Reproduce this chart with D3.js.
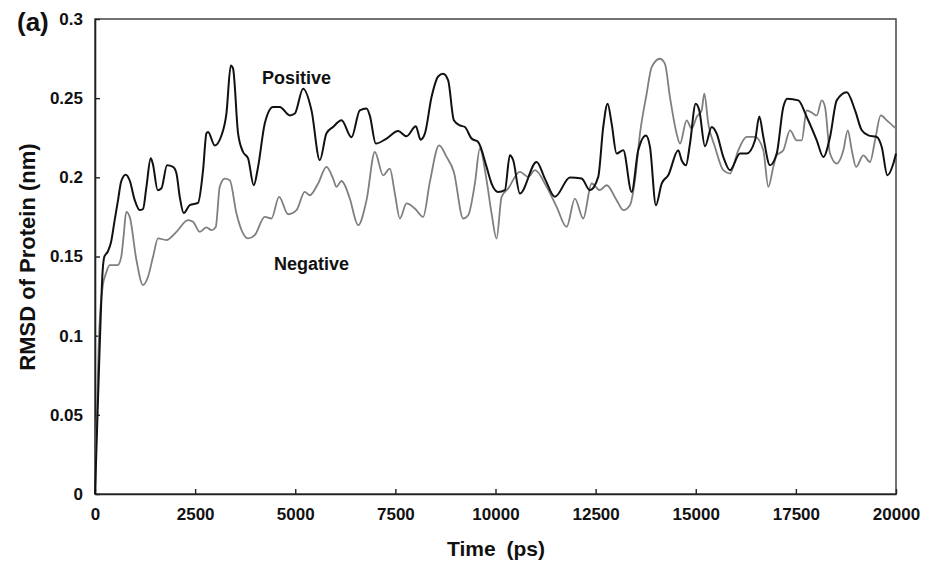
<!DOCTYPE html>
<html>
<head>
<meta charset="utf-8">
<script src="https://cdn.jsdelivr.net/npm/d3@7"></script>
<style>
  body { margin: 0; background: #fff; }
  text { font-family: "Liberation Sans", Arial, sans-serif; font-weight: bold; fill: #111; }
</style>
</head>
<body>
<div id="chart"></div>
<script>
// Positive run (black)
var posTime = [0,117,192,235,317,400,485,575,655,767,867,992,1117,1199,1284,1391,1441,1566,1659,1799,1948,2033,2116,2216,2366,2573,2698,2783,2823,2990,3157,3282,3390,3447,3572,3697,3822,3964,4072,4239,4446,4614,4864,4989,5196,5406,5613,5780,5945,6155,6405,6612,6780,6862,7012,7279,7569,7779,8011,8129,8236,8403,8568,8693,8818,8960,9110,9235,9402,9567,9777,9902,10067,10234,10359,10442,10609,11026,11233,11483,11858,12150,12357,12565,12690,12800,12900,13024,13190,13399,13564,13757,13857,14006,14149,14313,14563,14648,14756,14856,14998,15088,15230,15398,15523,15688,15855,16105,16272,16480,16587,16687,16854,17021,17186,17286,17561,17771,18021,18186,18353,18520,18770,18978,19145,19310,19519,19644,19784,19934,20000];
var posRmsd = [0,0.093,0.1415,0.150,0.153,0.159,0.172,0.1856,0.1975,0.2017,0.198,0.1856,0.1793,0.180,0.194,0.212,0.2089,0.1919,0.1931,0.2076,0.2066,0.2026,0.1877,0.1774,0.1824,0.1839,0.2045,0.2278,0.2286,0.2201,0.2264,0.2404,0.2706,0.2687,0.2278,0.216,0.212,0.195,0.2066,0.234,0.2444,0.2444,0.2391,0.2403,0.256,0.2423,0.2108,0.2278,0.2318,0.236,0.2253,0.2423,0.2434,0.239,0.2213,0.2245,0.2292,0.2259,0.2322,0.2238,0.2276,0.2507,0.2637,0.2654,0.2612,0.236,0.2328,0.2318,0.2245,0.2223,0.2066,0.1961,0.1908,0.1919,0.2139,0.2108,0.1898,0.2097,0.1992,0.1877,0.1999,0.1992,0.1919,0.2003,0.2318,0.2465,0.2339,0.215,0.2171,0.1908,0.2171,0.2265,0.2192,0.1824,0.1961,0.2013,0.2171,0.2108,0.2076,0.2213,0.2465,0.2423,0.2196,0.2318,0.2276,0.2129,0.2045,0.215,0.215,0.2234,0.2385,0.2255,0.2076,0.215,0.2444,0.2497,0.2486,0.2381,0.2234,0.2129,0.2255,0.2486,0.2538,0.2423,0.2297,0.2265,0.2255,0.2192,0.2013,0.2087,0.215];

// Negative run (grey)
var negTime = [0,110,192,275,367,567,655,717,780,867,1034,1199,1324,1449,1574,1784,2033,2323,2448,2615,2783,2908,3015,3115,3240,3365,3532,3697,3822,3989,4239,4406,4596,4821,5031,5238,5363,5571,5780,5945,6030,6155,6238,6362,6570,6780,6987,7194,7362,7487,7611,7779,7986,8193,8361,8593,8778,8960,9193,9318,9485,9610,9777,9902,10027,10152,10317,10609,10816,10984,11276,11526,11776,11983,12190,12400,12607,12775,13024,13190,13357,13482,13607,13774,13899,14106,14231,14356,14523,14606,14773,14898,15023,15148,15213,15313,15480,15688,15855,16062,16272,16480,16687,16812,16937,17021,17186,17354,17521,17646,17771,17936,18021,18146,18228,18353,18520,18686,18796,18896,19003,19185,19353,19477,19620,19769,20000];
var negRmsd = [0,0.1057,0.131,0.1394,0.1446,0.1446,0.1498,0.1635,0.1782,0.175,0.1478,0.132,0.1372,0.1498,0.1614,0.1604,0.1656,0.173,0.1719,0.1656,0.1684,0.1667,0.1687,0.194,0.1992,0.1982,0.1772,0.1646,0.1614,0.1635,0.175,0.174,0.1877,0.1767,0.1793,0.1908,0.1887,0.1961,0.2066,0.1992,0.194,0.1977,0.195,0.1866,0.1698,0.1856,0.216,0.2013,0.2055,0.1898,0.174,0.1835,0.1803,0.175,0.1971,0.2202,0.2129,0.2034,0.174,0.1761,0.1961,0.2182,0.1982,0.1772,0.1614,0.1877,0.193,0.2034,0.2003,0.2045,0.194,0.1814,0.1687,0.1866,0.174,0.1961,0.1919,0.195,0.1856,0.1793,0.1824,0.1982,0.2276,0.2528,0.2696,0.2749,0.2717,0.2507,0.2276,0.2213,0.236,0.2308,0.2381,0.2423,0.2528,0.2339,0.2192,0.2045,0.2024,0.2171,0.2255,0.2255,0.2171,0.194,0.2066,0.2139,0.2171,0.2297,0.2234,0.2234,0.2423,0.2402,0.2391,0.2486,0.2444,0.215,0.2087,0.2171,0.2297,0.2171,0.2066,0.2139,0.2097,0.2234,0.2391,0.236,0.2308];

var xTicks = [0,2500,5000,7500,10000,12500,15000,17500,20000];
var yTicks = [0,0.05,0.1,0.15,0.2,0.25,0.3];
var yTickLabels = ["0","0.05","0.1","0.15","0.2","0.25","0.3"];

var width = 935, height = 562;
var plotLeft = 95, plotRight = 896, plotTop = 19, plotBottom = 494;

var svg = d3.select('#chart').append('svg')
  .attr('width', width)
  .attr('height', height);

var x = d3.scaleLinear().domain([0, 20000]).range([plotLeft, plotRight]);
var y = d3.scaleLinear().domain([0, 0.3]).range([plotBottom, plotTop]);

// frame (top & right)
svg.append('rect')
  .attr('x', plotLeft).attr('y', plotTop)
  .attr('width', plotRight - plotLeft).attr('height', plotBottom - plotTop)
  .style('fill', 'none').style('stroke', '#444').style('stroke-width', 1.5);

// axes, ticks pointing inward
var xAxis = svg.append('g').attr('transform', 'translate(0,' + plotBottom + ')')
  .call(d3.axisBottom(x).tickValues(xTicks).tickSizeInner(-5).tickSizeOuter(0).tickPadding(14).tickFormat(d3.format('d')));
var yAxis = svg.append('g').attr('transform', 'translate(' + plotLeft + ',0)')
  .call(d3.axisLeft(y).tickValues(yTicks).tickSizeInner(-5).tickSizeOuter(0).tickPadding(12)
    .tickFormat(function(d, i) { return yTickLabels[i]; }));

[xAxis, yAxis].forEach(function(g) {
  g.select('.domain').style('stroke', '#222').style('stroke-width', 1.6);
  g.selectAll('.tick line').style('stroke', '#222').style('stroke-width', 1.4);
  g.selectAll('.tick text').style('font-size', '17px').style('font-family', '"Liberation Sans", Arial, sans-serif')
    .style('font-weight', 'bold').style('fill', '#111');
});

var line = d3.line()
  .x(function(d) { return x(d[0]); })
  .y(function(d) { return y(d[1]); })
  .curve(d3.curveMonotoneX);

var negData = negTime.map(function(t, i) { return [t, negRmsd[i]]; });
var posData = posTime.map(function(t, i) { return [t, posRmsd[i]]; });

svg.append('path').datum(negData)
  .attr('d', line)
  .style('fill', 'none').style('stroke', '#7f7f7f').style('stroke-width', 1.8)
  .style('stroke-linejoin', 'round');

svg.append('path').datum(posData)
  .attr('d', line)
  .style('fill', 'none').style('stroke', '#111').style('stroke-width', 2)
  .style('stroke-linejoin', 'round');

// series labels
svg.append('text').attr('x', 262).attr('y', 84).style('font-size', '18px').text('Positive');
svg.append('text').attr('x', 274).attr('y', 270).style('font-size', '18px').text('Negative');

// titles
svg.append('text').attr('x', 496).attr('y', 556).attr('text-anchor', 'middle')
  .style('font-size', '21px').style('word-spacing', '5px').text('Time (ps)');
svg.append('text').attr('transform', 'translate(35,257) rotate(-90)').attr('text-anchor', 'middle')
  .style('font-size', '22px').text('RMSD of Protein (nm)');

svg.append('text').attr('x', 17).attr('y', 31).style('font-size', '26px').text('(a)');
</script>
</body>
</html>
